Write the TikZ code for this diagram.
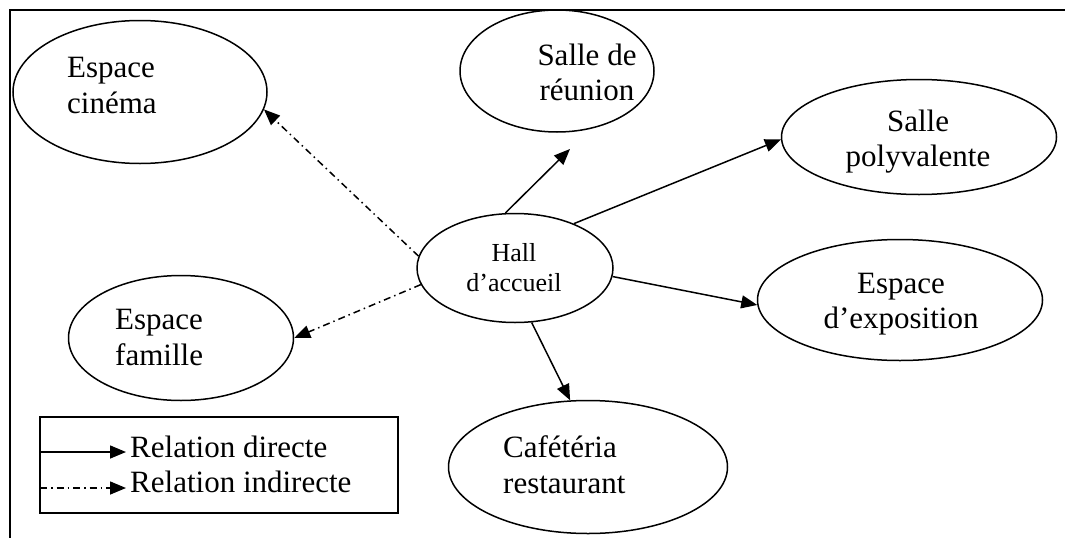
\documentclass[tikz,border=0pt]{standalone}
\usepackage{fontspec}
\setmainfont{Liberation Serif}
\usetikzlibrary{shapes.geometric,arrows.meta}
\begin{document}
\begin{tikzpicture}[x=1pt,y=-1pt,
 room/.style={draw,ellipse,line width=1.5pt,inner sep=0pt},
 lbl/.style={font=\fontsize{31}{36}\selectfont,inner sep=0pt,align=left},
 lblc/.style={font=\fontsize{31}{35}\selectfont,inner sep=0pt,align=center},
 hl/.style={font=\fontsize{26}{30}\selectfont,inner sep=0pt,align=center},
 direct/.style={line width=1.5pt,-{Triangle[length=16pt,width=13pt]}},
 indirect/.style={direct,dash pattern=on 7pt off 4pt on 1.5pt off 4pt}]
\useasboundingbox (0,0) rectangle (1065,538);
\draw[line width=1.5pt] (1065,10) -- (10,10) -- (10,538);

% rooms
\node[room,minimum width=254pt,minimum height=143pt] (cinema) at (140,92) {};
\node[room,minimum width=194pt,minimum height=122pt] (reunion) at (557,71) {};
\node[room,minimum width=275pt,minimum height=115pt] (poly) at (919,137) {};
\node[room,minimum width=196pt,minimum height=109pt] (hall) at (515,268) {};
\node[room,minimum width=285pt,minimum height=121pt] (expo) at (900,300) {};
\node[room,minimum width=225pt,minimum height=125pt] (famille) at (181,338) {};
\node[room,minimum width=279pt,minimum height=133pt] (cafe) at (588,467) {};

% texts (anchor = baseline of the last line)
\node[lbl,anchor=base west] (tcinema) at (67,113) {Espace\\cinéma};
\node[lblc,anchor=base] (treunion) at (587,100) {Salle de\\réunion};
\node[lblc,anchor=base] (tpoly) at (918,166) {Salle\\polyvalente};
\node[hl,anchor=base] (thall) at (514,291) {Hall\\d’accueil};
\node[lblc,anchor=base] (texpo) at (901,328) {Espace\\d’exposition};
\node[lbl,anchor=base west] (tfamille) at (115,365) {Espace\\famille};
\node[lbl,anchor=base west] (tcafe) at (503,493) {Cafétéria\\restaurant};

% connectors
\coordinate (reunionIn) at (570,149);
\draw[direct] (hall.100) -- (reunionIn);
\draw[direct] (hall.37) -- (poly.181);
\draw[direct] (hall.-5) -- (expo.182);
\draw[direct] (hall.-73) -- (cafe.105);
\draw[indirect] (hall.173) -- (cinema.-8);
\draw[indirect] (hall.190) -- (famille.east);

% legend
\node[draw,line width=1.5pt,minimum width=358pt,minimum height=96pt,inner sep=0pt] (legend) at (219,465) {};
\coordinate (d1) at (40,452);
\coordinate (d2) at (126,452);
\coordinate (i1) at (40,488);
\coordinate (i2) at (126,488);
\draw[direct] (d1) -- (d2);
\draw[indirect] (i1) -- (i2);
\node[lbl,anchor=base west] (tdirect) at (130,457) {Relation directe};
\node[lbl,anchor=base west] (tindirect) at (130,492) {Relation indirecte};
\end{tikzpicture}
\end{document}
